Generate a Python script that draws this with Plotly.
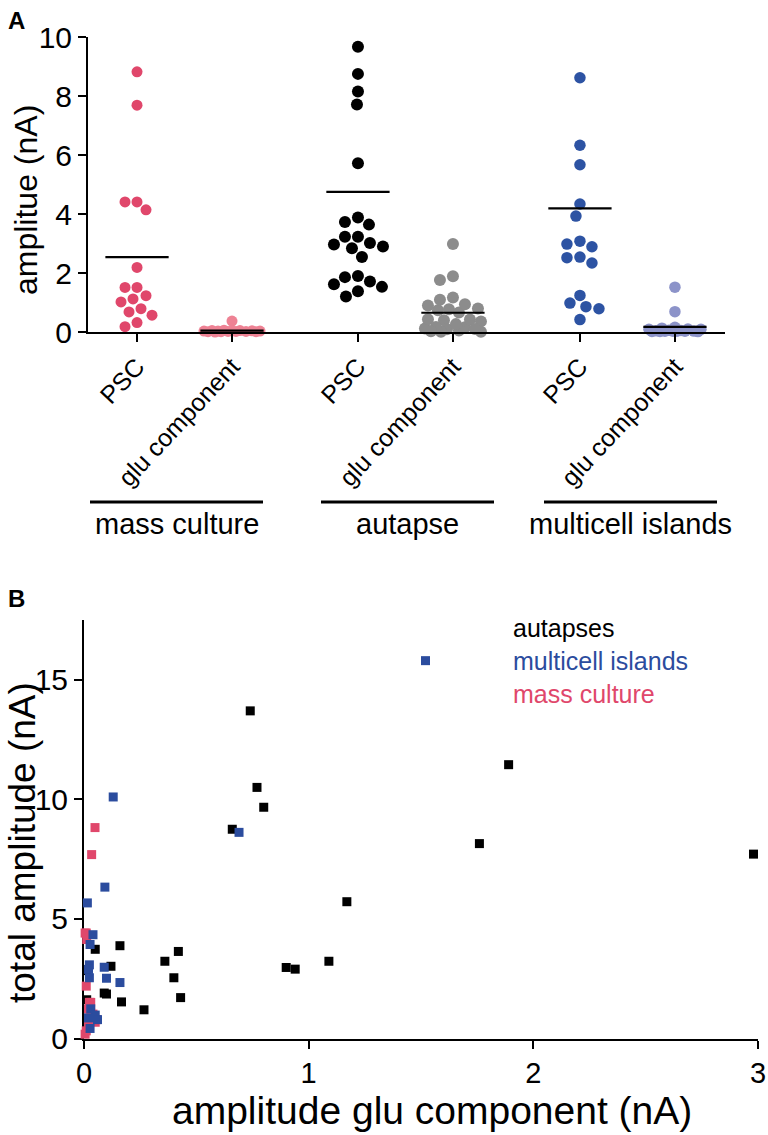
import numpy as np
import plotly.graph_objects as go

# ---------------- data ----------------
groups = ["mass culture", "autapse", "multicell islands"]
cat_labels = ["PSC", "glu component"]

# mass culture (paired: total PSC amplitude, glu component)
mass_psc = [8.82, 7.69, 4.41, 4.41, 4.14, 2.19, 1.51, 1.51, 1.23, 1.12, 1.02, 0.79, 0.68, 0.57, 0.32, 0.18]
mass_glu = [0.049, 0.034, 0.010, 0.005, 0.012, 0.010, 0.024, 0.030, 0.020, 0.030, 0.040, 0.056, 0.050, 0.020, 0.010, 0.005]
# glu component of mass culture as shown in panel A
mass_glu_a = [0.37, 0.06, 0.05, 0.05, 0.04, 0.04, 0.03, 0.03, 0.03, 0.02, 0.02, 0.02, 0.01, 0.01, 0.01, 0.00]

# autapses
aut_psc = [13.7, 11.45, 10.5, 9.67, 8.75, 8.15, 7.71, 5.72, 3.88, 3.73, 3.64, 3.23, 3.23, 3.02, 2.97,
           2.90, 2.84, 2.54, 1.90, 1.86, 1.71, 1.62, 1.53, 1.38, 1.20]
aut_glu = [0.74, 1.89, 0.77, 0.80, 0.66, 1.76, 2.98, 1.17, 0.16, 0.05, 0.42, 0.36, 1.09, 0.12, 0.90,
           0.94, 0.012, 0.40, 0.09, 0.10, 0.43, 0.012, 0.167, 0.027, 0.267]

# multicell islands
multi_psc = [15.8, 10.1, 8.62, 6.33, 5.67, 4.34, 3.93, 3.08, 2.98, 2.89, 2.54, 2.52, 2.34, 1.24, 0.98, 0.86, 0.79, 0.42]
multi_glu = [1.52, 0.13, 0.69, 0.093, 0.015, 0.04, 0.027, 0.024, 0.09, 0.02, 0.024, 0.10, 0.16, 0.03, 0.05, 0.02, 0.06, 0.027]

legend_names = ["autapses", "multicell islands", "mass culture"]

# ---------------- styling ----------------
FONT = "Liberation Sans"
W, H = 768, 1135
colA = {"mass culture": ("#E0476B", "#EE8294"),
        "autapse": ("#000000", "#8C8C8C"),
        "multicell islands": ("#2D53A3", "#8C93C9")}
dotA = {"mass culture": 11, "autapse": 12, "multicell islands": 11.5}
colB = {"autapses": "#000000", "multicell islands": "#2B4C9E", "mass culture": "#E0476B"}

# category positions (panel A x axis units; 95 px per unit)
PX_X = 95.0
PX_Y = 29.5
positions = [0.0, 1.0, 2.326, 3.326, 4.663, 5.663]


def swarm(vals, maxw_px, d):
    """Simple beeswarm: returns x offsets (axis units)."""
    order = sorted(range(len(vals)), key=lambda i: -vals[i])
    cands = [0.0]
    k = 1
    while k <= maxw_px:
        cands += [float(-k), float(k)]
        k += 1
    placed = []
    res = [0.0] * len(vals)
    for i in order:
        y = vals[i] * PX_Y
        best, bestd = 0.0, -1.0
        for c in cands:
            md = min([np.hypot(c - px, y - py) for px, py in placed], default=1e9)
            if md >= d:
                best = c
                break
            if md > bestd:
                bestd, best = md, c
        placed.append((best, y))
        res[i] = best / PX_X
    return res


fig = go.Figure()

seriesA = [
    ("mass culture", mass_psc, mass_glu_a),
    ("autapse", aut_psc, aut_glu),
    ("multicell islands", multi_psc, multi_glu),
]

for gi, (g, psc, glu) in enumerate(seriesA):
    for ci, vals in enumerate([psc, glu]):
        pos = positions[gi * 2 + ci]
        shown = [v for v in vals if v <= 10]
        offs = swarm(shown, 28, dotA[g] + 1)
        fig.add_trace(go.Scatter(
            x=[pos + o for o in offs], y=shown, mode="markers",
            marker=dict(size=dotA[g], color=colA[g][ci], line=dict(width=0)),
            cliponaxis=False, showlegend=False, xaxis="x", yaxis="y"))
for gi, (g, psc, glu) in enumerate(seriesA):
    for ci, vals in enumerate([psc, glu]):
        pos = positions[gi * 2 + ci]
        m = float(np.mean(vals))
        fig.add_trace(go.Scatter(
            x=[pos - 0.333, pos + 0.333], y=[m, m], mode="lines",
            line=dict(color="black", width=2.2), showlegend=False,
            cliponaxis=False, xaxis="x", yaxis="y"))

# panel B
seriesB = [
    ("autapses", aut_glu, aut_psc),
    ("mass culture", mass_glu, mass_psc),
    ("multicell islands", multi_glu, multi_psc),
]
for name, xs, ys in seriesB:
    fig.add_trace(go.Scatter(
        x=xs, y=ys, mode="markers",
        marker=dict(symbol="square", size=9, color=colB[name], line=dict(width=0)),
        cliponaxis=False, showlegend=False, xaxis="x2", yaxis="y2"))

axis_common = dict(showgrid=False, zeroline=False, showline=True, linecolor="black",
                   linewidth=2, ticks="outside", ticklen=8, tickwidth=2, tickcolor="black",
                   automargin=False, ticklabeloverflow="allow",
                   tickfont=dict(family=FONT, size=30, color="black"))

fig.update_layout(
    width=W, height=H, margin=dict(l=0, r=0, t=0, b=0, pad=0, autoexpand=False),
    paper_bgcolor="white", plot_bgcolor="white",
    xaxis=dict(domain=[88 / W, 725 / W], range=[-0.516, 6.19],
               tickvals=positions, ticktext=cat_labels * 3, tickangle=-47,
               **{**axis_common, "tickfont": dict(family=FONT, size=25, color="black")}),
    yaxis=dict(domain=[1 - 332 / H, 1 - 37 / H], range=[0, 10],
               tickvals=[0, 2, 4, 6, 8, 10], **axis_common),
    xaxis2=dict(domain=[84 / W, 758 / W], range=[0, 3], tickvals=[0, 1, 2, 3],
                anchor="y2", layer="below traces",
                **{**axis_common, "tickfont": dict(family=FONT, size=29, color="black")}),
    yaxis2=dict(domain=[1 - 1038.5 / H, 1 - 620 / H], range=[0, 17.5],
                tickvals=[0, 5, 10, 15], anchor="x2", layer="below traces", **axis_common),
)

ann = []
# panel letters
ann.append(dict(text="<b>A</b>", x=6 / W, y=1 - 20 / H, xref="paper", yref="paper",
                showarrow=False, xanchor="left", yanchor="middle",
                font=dict(family=FONT, size=24, color="black")))
ann.append(dict(text="<b>B</b>", x=6 / W, y=1 - 598 / H, xref="paper", yref="paper",
                showarrow=False, xanchor="left", yanchor="middle",
                font=dict(family=FONT, size=24, color="black")))
# axis titles
ann.append(dict(text="amplitue (nA)", x=26 / W, y=1 - 200 / H, xref="paper", yref="paper",
                showarrow=False, textangle=-90, xanchor="center", yanchor="middle",
                font=dict(family=FONT, size=32, color="black")))
ann.append(dict(text="total amplitude (nA)", x=22 / W, y=1 - 843 / H, xref="paper", yref="paper",
                showarrow=False, textangle=-90, xanchor="center", yanchor="middle",
                font=dict(family=FONT, size=37, color="black")))
ann.append(dict(text="amplitude glu component (nA)", x=432 / W, y=1 - 1110 / H, xref="paper",
                yref="paper", showarrow=False, xanchor="center", yanchor="middle",
                font=dict(family=FONT, size=39, color="black")))

# group bars and labels
bars_px = [(90, 263), (321, 494), (544, 717)]
shapes = []
for g, (a, b) in zip(groups, bars_px):
    shapes.append(dict(type="line", xref="paper", yref="paper", x0=a / W, x1=b / W,
                       y0=1 - 502 / H, y1=1 - 502 / H, line=dict(color="black", width=3)))
    ann.append(dict(text=g, x=(a + b) / 2 / W, y=1 - 524 / H, xref="paper", yref="paper",
                    showarrow=False, xanchor="center", yanchor="middle",
                    font=dict(family=FONT, size=29, color="black")))

# legend text in panel B
for i, name in enumerate(legend_names):
    ann.append(dict(text=name, x=511 / W, y=1 - (628 + 33 * i) / H, xref="paper", yref="paper",
                    showarrow=False, xanchor="left", yanchor="middle",
                    font=dict(family=FONT, size=25, color=colB[name])))

fig.update_layout(annotations=ann, shapes=shapes)
fig.write_html("out.html", config={"displayModeBar": False},
               post_script="document.body.style.margin='0px';")
